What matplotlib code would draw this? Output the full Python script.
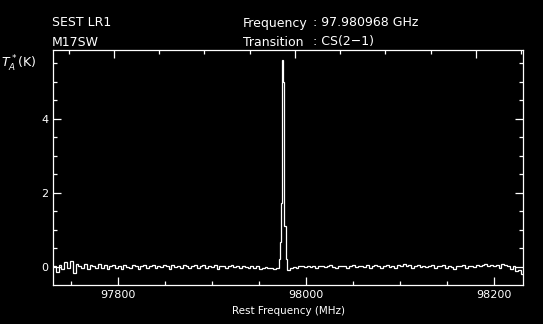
import numpy as np
import matplotlib
matplotlib.use("Agg")
import matplotlib.pyplot as plt
from matplotlib.ticker import MultipleLocator, NullFormatter

# Spectrum data (rest frequency in MHz, antenna temperature in K).
left_start, step = 97731.0, 3.0
left_vals = [
    0.03, -0.14, 0.06, -0.05, 0.12, -0.02, 0.17, -0.16, 0.09, 0.02,
    -0.04, 0.08, -0.06, 0.05, 0.01, -0.03, 0.07, -0.02, 0.04, -0.07,
    0.03, 0.06, -0.04, 0.02, -0.05, 0.05, 0.00, -0.03, 0.04, 0.02,
    -0.06, 0.03, 0.05, -0.02, 0.01, 0.06, -0.04, 0.03, -0.01, 0.04,
    0.02, -0.05, 0.05, 0.00, 0.03, -0.03, 0.06, 0.01, -0.04, 0.02,
    0.04, -0.02, 0.03, 0.05, -0.03, 0.02, 0.00, 0.04, -0.05, 0.03,
    0.01, -0.04, 0.02, 0.05, -0.01, 0.03, -0.03, 0.02, 0.00, -0.04,
    0.01, -0.02, 0.02, -0.05, -0.03, 0.00, -0.04, -0.02, -0.06, -0.03]
line_edges = [97971.0, 97972.0, 97973.3, 97974.6, 97975.8, 97977.2, 97978.6, 97980.0]
line_vals = [0.20, 0.68, 1.73, 5.60, 5.00, 1.10, 0.20]
right_vals = [
    -0.08, -0.04, 0.00, -0.02, 0.03, 0.01, -0.01, 0.02, 0.00, 0.03,
    -0.02, 0.01, 0.03, -0.01, 0.02, 0.04, 0.00, -0.03, 0.02, 0.01,
    0.03, -0.02, 0.02, 0.04, -0.01, 0.01, 0.03, 0.00, 0.05, -0.02,
    0.02, 0.04, 0.01, -0.03, 0.03, 0.06, 0.00, 0.02, -0.02, 0.05,
    0.03, 0.07, 0.01, 0.04, -0.03, 0.02, 0.05, 0.00, 0.03, -0.01,
    0.02, 0.04, -0.02, 0.01, 0.03, 0.05, -0.04, 0.02, 0.00, -0.06,
    0.03, 0.02, 0.04, -0.02, 0.01, 0.03, 0.00, 0.05, 0.02, 0.04,
    0.08, 0.03, 0.06, 0.01, 0.04, -0.02, 0.09, 0.05, 0.02, -0.06,
    0.03, -0.10, -0.08, -0.20]

x_ticks = [97800, 98000, 98200]
y_ticks = [0, 2, 4]

# Channel edges
left_edges = left_start + step * np.arange(len(left_vals) + 1)
right_edges = line_edges[-1] + step * np.arange(len(right_vals) + 1)
edges = np.concatenate([left_edges[:-1], line_edges[:-1], right_edges])
vals = np.array(left_vals + line_vals + right_vals)

fg = "white"
fig = plt.figure(figsize=(5.43, 3.24), dpi=100, facecolor="black")
ax = fig.add_axes([0.0976, 0.1204, 0.8656, 0.7253], facecolor="black")

ax.stairs(vals, edges, color=fg, lw=0.9)
ax.set_xlim(97731, 98231)
ax.set_ylim(-0.49, 5.86)

ax.set_xticks(x_ticks)
ax.set_yticks(y_ticks)
ax.xaxis.set_minor_locator(MultipleLocator(50))
ax.yaxis.set_minor_locator(MultipleLocator(0.5))
ax.tick_params(which="both", direction="in", colors=fg, labelcolor=fg,
               labelsize=8, width=0.9, bottom=True, left=True, right=True, top=False)
ax.tick_params(which="major", length=6)
ax.tick_params(which="minor", length=3.2)
for s in ax.spines.values():
    s.set_color(fg)
    s.set_linewidth(0.9)

# Unlabelled top axis with its own scale
top = ax.twiny()
top.set_xlim(-0.337, 2.26)
top.xaxis.set_major_locator(MultipleLocator(1))
top.xaxis.set_minor_locator(MultipleLocator(0.25))
top.xaxis.set_major_formatter(NullFormatter())
top.tick_params(which="both", direction="in", colors=fg, width=0.9)
top.tick_params(which="major", length=5.5)
top.tick_params(which="minor", length=3)
for s in top.spines.values():
    s.set_visible(False)

# Header text
kw = dict(color=fg, fontsize=9, va="center")
fig.text(52 / 543, 1 - 23 / 324, "SEST LR1", **kw)
fig.text(52 / 543, 1 - 42 / 324, "M17SW", **kw)
fig.text(243 / 543, 1 - 23 / 324, "Frequency", **kw)
fig.text(313 / 543, 1 - 23 / 324, ": 97.980968 GHz", **kw)
fig.text(243 / 543, 1 - 42 / 324, "Transition", **kw)
fig.text(313 / 543, 1 - 42 / 324, ": CS(2\u22121)", **kw)
fig.text(1 / 543, 1 - 64 / 324, r"$T_A^*$(K)", color=fg, fontsize=9, va="center")
fig.text(288 / 543, 1 - 311 / 324, "Rest Frequency (MHz)", color=fg,
         fontsize=7.5, ha="center", va="center")

fig.savefig("out.png", dpi=100, facecolor="black")
